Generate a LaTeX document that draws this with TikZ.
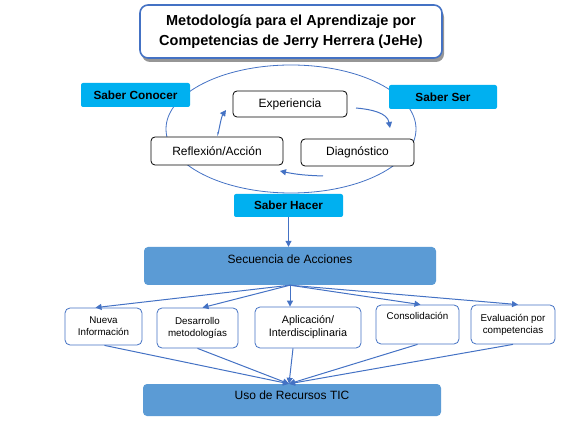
\documentclass[tikz,border=0pt]{standalone}
\usepackage{fontspec}
\setmainfont{Liberation Sans}
\usepackage{xcolor}
\definecolor{jhblue}{RGB}{68,114,196}
\definecolor{jhcyan}{RGB}{0,176,240}
\definecolor{jhfill}{RGB}{91,155,213}
\definecolor{jhgray}{RGB}{150,150,150}
\usetikzlibrary{arrows.meta, calc}

\tikzset{
  saber/.style={fill=jhcyan, rounded corners=2pt, inner sep=0pt,
    font=\fontsize{11.8}{13}\selectfont\bfseries},
  ciclo/.style={draw=black, fill=white, rounded corners=4pt, inner sep=0pt,
    line width=0.8pt, font=\fontsize{12}{14}\selectfont},
  bloque/.style={fill=jhfill, rounded corners=4pt, inner sep=0pt,
    font=\fontsize{12}{14}\selectfont},
  paso/.style={draw=jhblue, fill=white, rounded corners=5pt, inner sep=0pt,
    align=center, line width=0.8pt, font=\fontsize{9.8}{12}\selectfont},
  flecha/.style={draw=jhblue, line width=1pt, -{Triangle[length=6pt,width=6pt]}}
}

\begin{document}
\begin{tikzpicture}[x=1pt, y=-1pt]
  \useasboundingbox (0,0) rectangle (567,427);

  % --- Title ---
  \fill[jhgray, rounded corners=8pt] (142,9) rectangle (444,62);
  \node[draw=jhblue, line width=1.6pt, fill=white, rounded corners=8pt,
        minimum width=302, minimum height=53, inner sep=0pt, align=center,
        font=\fontsize{14.5}{20}\selectfont\bfseries] (titulo) at (291,31.5)
       {Metodología para el Aprendizaje por\\Competencias de Jerry Herrera (JeHe)};

  % --- Cycle ---
  \draw[jhblue, line width=0.8pt] (291,129) ellipse [x radius=125, y radius=64];
  \node[saber, minimum width=109, minimum height=24] (conocer) at (135.5,95) {Saber Conocer};
  \node[saber, minimum width=108, minimum height=24] (ser) at (443,97) {Saber Ser};
  \node[saber, minimum width=109, minimum height=23] (hacer) at (288.5,205.5) {Saber Hacer};

  \node[ciclo, minimum width=114, minimum height=26] (experiencia) at (290,104) {Experiencia};
  \node[ciclo, minimum width=132, minimum height=28] (reflexion) at (217,151) {Reflexión/Acción};
  \node[ciclo, minimum width=113, minimum height=27] (diagnostico) at (357.5,152.5) {Diagnóstico};

  \coordinate (ed1) at (356,108);
  \coordinate (ed2) at (390,128);
  \coordinate (dr1) at (323,176);
  \coordinate (dr2) at (280,171);
  \coordinate (re1) at (218,132);
  \coordinate (re2) at (226,110);
  \draw[flecha] (ed1) to[out=-5, in=100] (ed2);
  \draw[flecha] (dr1) to[out=178, in=-12] (dr2);
  \draw[flecha] (re1) to[out=-95, in=-125] (re2);

  % --- Sequence ---
  \node[bloque, minimum width=292, minimum height=38, text height=16.5, text depth=21.5]
       (secuencia) at (290,266) {Secuencia de Acciones};
  \draw[flecha] (hacer.south) -- (hacer.south |- secuencia.north);

  \node[paso, minimum width=77, minimum height=37] (nueva) at (103.5,326.5) {Nueva\\Información};
  \node[paso, minimum width=81, minimum height=40] (desarrollo) at (197.5,328) {Desarrollo\\metodologías};
  \node[paso, minimum width=106, minimum height=41, font=\fontsize{10.8}{13}\selectfont]
       (aplicacion) at (308,327.5) {Aplicación/\\Interdisciplinaria};
  \node[paso, minimum width=83, minimum height=39, text height=14.5, text depth=24.5]
       (consolidacion) at (417.5,324.5) {Consolidación};
  \node[paso, minimum width=84, minimum height=39] (evaluacion) at (513,324.5) {Evaluación por\\competencias};

  \node[bloque, minimum width=298, minimum height=32, text height=15.5, text depth=16.5]
       (uso) at (292,400) {Uso de Recursos TIC};

  % arrows out of the sequence
  \draw[flecha] (secuencia.south) -- ($(nueva.north)+(-8,0)$);
  \draw[flecha] (secuencia.south) -- ($(desarrollo.north)+(5,0)$);
  \draw[flecha] (secuencia.south) -- ($(aplicacion.north)+(-18,0)$);
  \draw[flecha] (secuencia.south) -- ($(consolidacion.north)+(3,0)$);
  \draw[flecha] (secuencia.south) -- ($(evaluacion.north)+(5,0)$);

  % arrows into TIC
  \draw[flecha] ($(nueva.south)+(1,0)$) -- ($(uso.north)+(-3,0)$);
  \draw[flecha] (desarrollo.south) -- ($(uso.north)+(-3,0)$);
  \draw[flecha] ($(aplicacion.south)+(-15,0)$) -- ($(uso.north)+(-3,0)$);
  \draw[flecha] (consolidacion.south) -- ($(uso.north)+(-3,0)$);
  \draw[flecha] (evaluacion.south) -- ($(uso.north)+(-3,0)$);
\end{tikzpicture}
\end{document}
